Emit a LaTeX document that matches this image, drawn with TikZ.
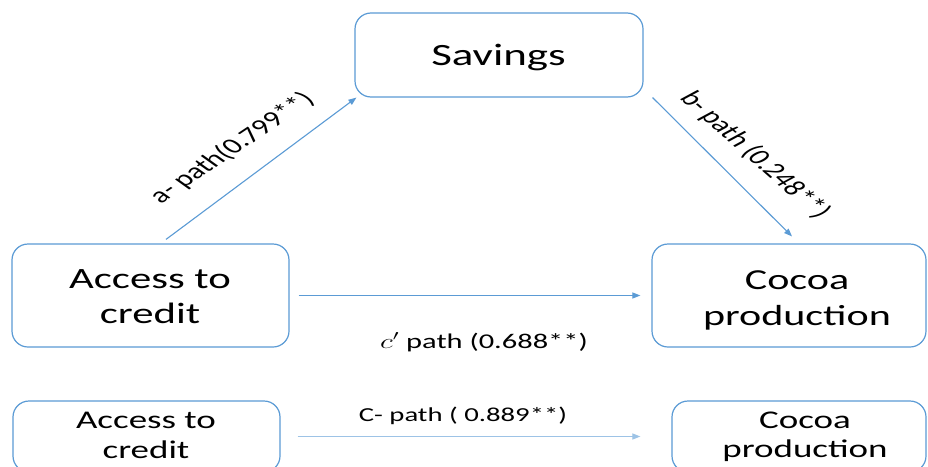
\documentclass[tikz,border=0pt]{standalone}
\usepackage{fontspec}
\setmainfont{Carlito}
\usetikzlibrary{arrows.meta}
\definecolor{boxblue}{HTML}{5B9BD5}
\definecolor{paleblue}{HTML}{9DC3E6}
% text is set horizontally widened
\newcommand{\wide}[1]{\scalebox{1.45}[1]{#1}}

\begin{document}
\begin{tikzpicture}[x=1pt,y=-1pt,
  box/.style={draw=boxblue,line width=1.2pt,rounded corners=16pt,rectangle,inner sep=0pt},
  arr/.style={draw=boxblue,line width=1.1pt,-{Triangle[length=8pt,width=6pt]}},
  lbl/.style={inner sep=0pt,text=black}]
\useasboundingbox (0,0) rectangle (928,466);
\clip (0,0) rectangle (928,466);
\fill[white] (0,0) rectangle (928,466);

% boxes
\node[box,minimum width=288pt,minimum height=84pt] (sav) at (499,55) {};
\node[box,minimum width=277pt,minimum height=103pt] (acc) at (150.5,295.5) {};
\node[box,minimum width=274pt,minimum height=103pt] (coc) at (789,295.5) {};
\node[box,minimum width=267pt,minimum height=71pt] (acc2) at (146.5,436.5) {};
\node[box,minimum width=254pt,minimum height=71pt] (coc2) at (799,436.5) {};

% box texts
\node[lbl,anchor=base] (savT) at (498.5,65) {\fontsize{31}{37}\selectfont\wide{Savings}};
\node[lbl] (accT) at (150,298.5) {\fontsize{29.5}{35}\selectfont\wide{\begin{tabular}{@{}c@{}}Access to\\credit\end{tabular}}};
\node[lbl] (cocT) at (797,300) {\fontsize{29}{36}\selectfont\wide{\begin{tabular}{@{}c@{}}Cocoa\\production\end{tabular}}};
\node[lbl] (acc2T) at (146,437) {\fontsize{25.5}{30}\selectfont\wide{\begin{tabular}{@{}c@{}}Access to\\credit\end{tabular}}};
\node[lbl] (coc2T) at (805,436.7) {\fontsize{25.5}{29}\selectfont\wide{\begin{tabular}{@{}c@{}}Cocoa\\production\end{tabular}}};

% path labels
\node[lbl,anchor=base] (cpT) at (484,348) {\fontsize{21}{25}\selectfont\wide{$c'$ path (0.688**)}};
\node[lbl,anchor=base] (cT) at (463,421) {\fontsize{19.8}{24}\selectfont\wide{C- path ( 0.889**)}};
\begin{scope}[shift={(232,148)},xscale=1.45]
  \node[lbl,rotate=44,transform shape] (aT) at (0,0) {\fontsize{22}{26}\selectfont a- path(0.799**)};
\end{scope}
\begin{scope}[shift={(755,155)},xscale=1.45]
  \node[lbl,rotate=-52,transform shape] (bT) at (0,0) {\fontsize{22}{26}\selectfont b- path (0.248**)};
\end{scope}

% connectors
\draw[arr] ([xshift=15.5pt,yshift=4pt]acc.north) -- ([xshift=2pt]sav.south west);
\draw[arr] ([xshift=9pt]sav.south east) -- ([xshift=3pt,yshift=7pt]coc.north);
\draw[arr] ([xshift=9pt]acc.east) -- ([xshift=-11pt]coc.west);
\draw[arr,draw=paleblue] ([xshift=17pt]acc2.east) -- ([xshift=-31pt]coc2.west);
\end{tikzpicture}
\end{document}
